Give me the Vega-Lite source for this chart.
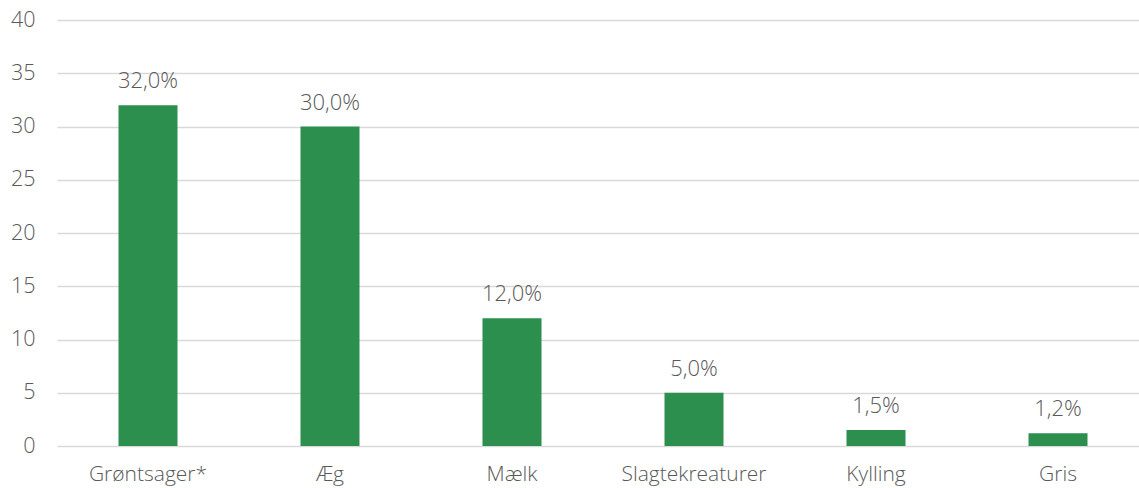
{
  "$schema": "https://vega.github.io/schema/vega-lite/v6.json",
  "width": 1092,
  "height": 426,
  "autosize": {"type": "none"},
  "padding": {"left": 57, "top": 20, "right": 0, "bottom": 42},
  "background": "white",
  "config": {"view": {"stroke": null}, "font": "Open Sans"},
  "data": {"values": [
    {"kategori": "Grøntsager*", "andel": 32.0, "label": "32,0%"},
    {"kategori": "Æg", "andel": 30.0, "label": "30,0%"},
    {"kategori": "Mælk", "andel": 12.0, "label": "12,0%"},
    {"kategori": "Slagtekreaturer", "andel": 5.0, "label": "5,0%"},
    {"kategori": "Kylling", "andel": 1.5, "label": "1,5%"},
    {"kategori": "Gris", "andel": 1.2, "label": "1,2%"}
  ]},
  "encoding": {
    "x": {"field": "kategori", "type": "nominal", "sort": null,
      "scale": {"paddingInner": 0, "paddingOuter": 0},
      "axis": {"title": null, "labelAngle": 0, "domain": false, "ticks": false, "labelPadding": 17,
        "labelFontSize": 21, "labelColor": "#595959", "labelFont": "Open Sans", "labelFontWeight": 300}},
    "y": {"field": "andel", "type": "quantitative",
      "scale": {"domain": [0, 40]},
      "axis": {"title": null, "values": [0,5,10,15,20,25,30,35,40], "domain": false, "ticks": false,
        "labelPadding": 22, "labelFontSize": 21.5, "labelColor": "#595959", "labelFont": "Open Sans", "labelFontWeight": 300,
        "gridColor": "#d9d9d9", "gridWidth": 1.5}}
  },
  "layer": [
    {"mark": {"type": "bar", "size": 59, "color": "#2c8f4e"}},
    {"mark": {"type": "text", "baseline": "bottom", "dy": -12, "fontSize": 22, "color": "#595959", "font": "Open Sans", "fontWeight": 300},
     "encoding": {"text": {"field": "label"}}}
  ]
}
